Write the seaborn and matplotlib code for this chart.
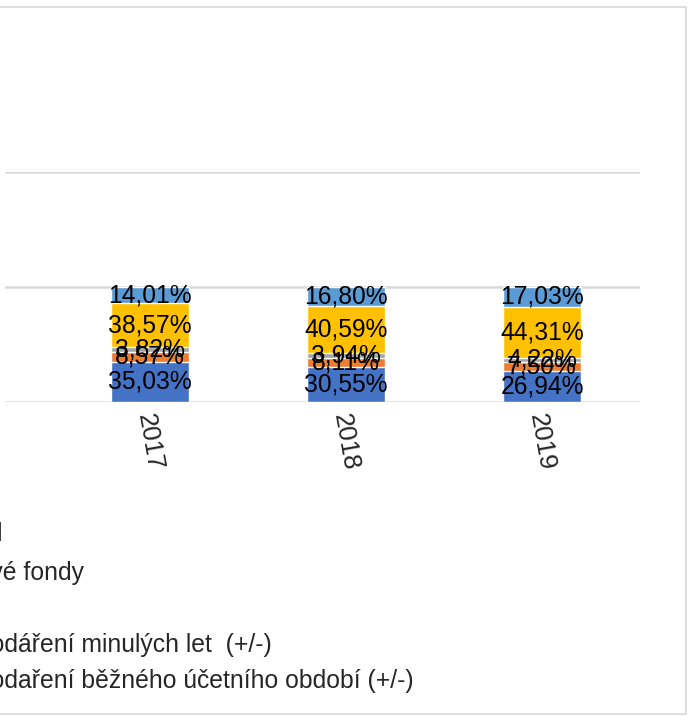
import matplotlib
matplotlib.use("Agg")
import matplotlib.pyplot as plt
from matplotlib.patches import Rectangle, Patch
import seaborn as sns
import pandas as pd
import numpy as np

# data (share of equity, %)
years = ["2017", "2018", "2019"]
series = [
    "Základní kapitál",
    "Ážio a kapitálové fondy",
    "Fondy ze zisku",
    "Výsledek hospodáření minulých let  (+/-)",
    "Výsledek hospodaření běžného účetního období (+/-)",
]
zakladni = [35.03, 30.55, 26.94]
kapitalove = [8.57, 8.11, 7.50]
fondy_zisk = [3.82, 3.94, 4.22]
vh_minule = [38.57, 40.59, 44.31]
vh_bezne = [14.01, 16.80, 17.03]
colors = ["#4472C4", "#ED7D31", "#A5A5A5", "#FFC000", "#5B9BD5"]

values = [zakladni, kapitalove, fondy_zisk, vh_minule, vh_bezne]

sns.set_theme(style="white")
plt.rcParams["font.family"] = ["Liberation Sans", "DejaVu Sans"]

W, H = 688, 716
fig = plt.figure(figsize=(W / 100, H / 100), dpi=100)
ax = fig.add_axes([5 / W, (H - 402) / H, (640 - 5) / W, (402 - 172) / H])

# 100 % stacked bars: draw cumulative totals from the top series down
shares = np.array(values) / np.array(values).sum(axis=0)
cum = shares.cumsum(axis=0)
for i in reversed(range(len(series))):
    df = pd.DataFrame({"Rok": years, "cum": cum[i]})
    sns.barplot(data=df, x="Rok", y="cum", color=colors[i], width=0.4,
                saturation=1, ax=ax)

# data labels
for i in range(len(series)):
    for j in range(len(years)):
        ax.text(j, cum[i][j] - shares[i][j] / 2,
                f"{values[i][j]:.2f}%".replace(".", ","),
                ha="center", va="center", fontsize=17.7, color="black")

ax.set_xlim(-0.74, 2.5)
ax.set_ylim(0, 2)
ax.set_yticks([0, 1, 2])
ax.set_yticklabels([])
ax.yaxis.grid(True, color="#D9D9D9", lw=1.8)
ax.set_axisbelow(True)
ax.tick_params(axis="both", length=0)
ax.tick_params(axis="x", pad=7)
plt.setp(ax.get_xticklabels(), rotation=-80, fontsize=18.5)
ax.set_xlabel("")
ax.set_ylabel("")
for s in ax.spines.values():
    s.set_visible(False)

handles = [Patch(color=c, label=s) for c, s in zip(colors, series)]
fig.legend(handles=handles, loc="upper left",
           bbox_to_anchor=(-197.5 / W, (H - 522) / H),
           frameon=False, fontsize=17.8, borderpad=0, borderaxespad=0,
           handlelength=0.7, handleheight=0.7, handletextpad=0.4,
           labelspacing=0.48)

# chart area border
fig.add_artist(Rectangle((-0.01, 2 / H), 686 / W + 0.01, (714 - 6.5) / H,
                         transform=fig.transFigure, fill=False,
                         edgecolor="#D9D9D9", lw=1.2))

fig.savefig("out.png", dpi=100)
